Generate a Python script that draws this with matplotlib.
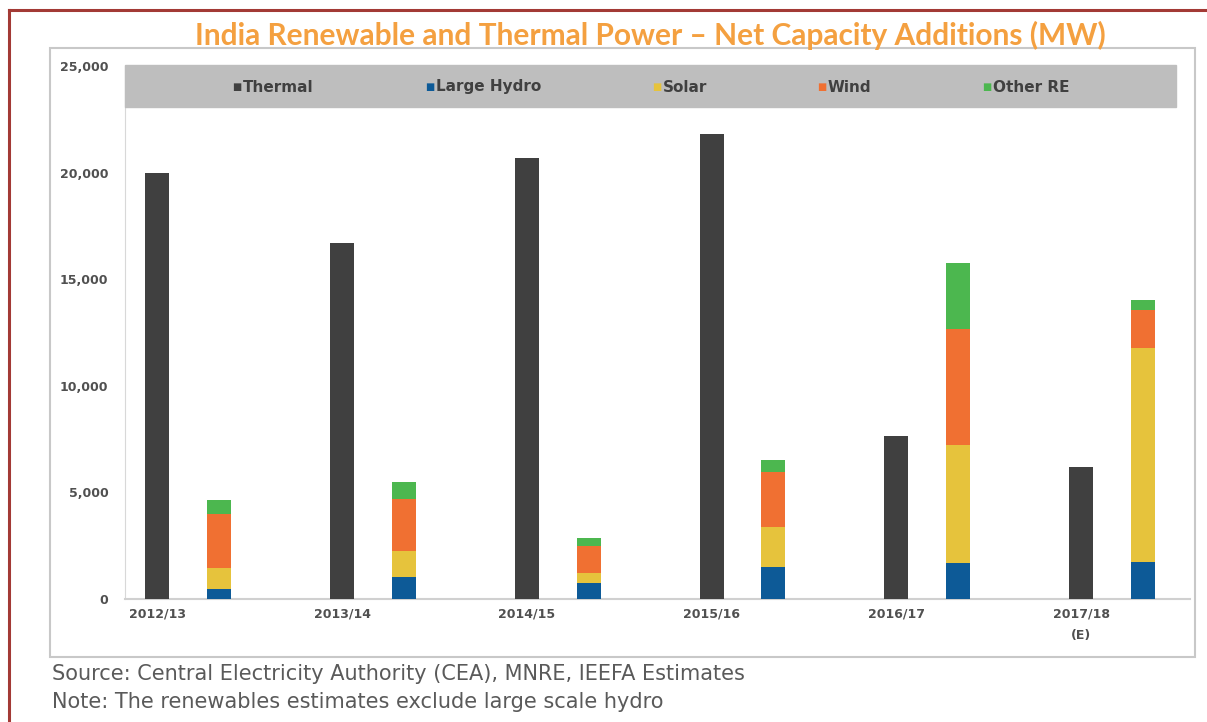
import matplotlib.pyplot as plt
from matplotlib.patches import Rectangle
from matplotlib.ticker import FuncFormatter
import numpy as np

# values (MW)
years = ['2012/13', '2013/14', '2014/15', '2015/16', '2016/17', '2017/18\n(E)']
thermal = [20000, 16700, 20700, 21800, 7650, 6200]
large_hydro = [480, 1030, 750, 1500, 1690, 1740]
solar = [970, 1220, 470, 1880, 5530, 10030]
wind = [2540, 2440, 1270, 2580, 5440, 1780]
other_re = [650, 800, 370, 560, 3100, 470]

series_names = ['Thermal', 'Large Hydro', 'Solar', 'Wind', 'Other RE']
colors = ['#404040', '#0D5A97', '#E6C33C', '#F07032', '#4CB74F']

fig = plt.figure(figsize=(12.07, 7.22), dpi=100)
W, H = 1207, 722

def fx(px):
    return px / W

def fy(py):
    return 1 - py / H

# dark red outer frame (top and left edges only visible)
fig.add_artist(plt.Line2D([fx(9), 1], [fy(10), fy(10)], color='#A33A35', lw=2.2))
fig.add_artist(plt.Line2D([fx(9), fx(9)], [fy(10), 0], color='#A33A35', lw=2.2))

# light grey chart box
fig.add_artist(Rectangle((fx(50), fy(657)), fx(1195 - 50), (657 - 48) / H,
                         fill=False, ec='#C8C8C8', lw=1.5))

fig.text(fx(650), fy(35), 'India Renewable and Thermal Power \u2013 Net Capacity Additions (MW)',
         ha='center', va='center', fontsize=21.5, fontweight='bold',
         color='#F4A040', family='Lato')

ax_l, ax_r, ax_b, ax_t = 125, 1190, 599, 66
ax = fig.add_axes([fx(ax_l), fy(ax_b), fx(ax_r - ax_l), (ax_b - ax_t) / H])
x = np.arange(len(years))
bw = 0.13
off = 0.335

ax.bar(x, thermal, bw, color=colors[0], zorder=3)
bottom = np.zeros(len(years))
for vals, c in zip([large_hydro, solar, wind, other_re], colors[1:]):
    ax.bar(x + off, vals, bw, bottom=bottom, color=c, zorder=3)
    bottom += np.array(vals)

ax.set_ylim(0, 25000)
ax.set_xlim(-0.175, 5.59)
ax.set_yticks(range(0, 25001, 5000))
ax.yaxis.set_major_formatter(FuncFormatter(lambda v, p: f'{int(v):,}'))
ax.set_xticks(x)
ax.set_xticklabels(years, linespacing=1.9)
for lab in ax.get_xticklabels() + ax.get_yticklabels():
    lab.set_fontweight('bold')
    lab.set_color('#505050')
    lab.set_fontsize(9)
ax.tick_params(axis='y', length=0, pad=12)
ax.tick_params(axis='x', length=0, pad=6)
for s in ['top', 'right']:
    ax.spines[s].set_visible(False)
ax.spines['left'].set_color('#D8D8D8')
ax.spines['bottom'].set_color('#D0D0D0')
ax.spines['bottom'].set_linewidth(1.5)

# grey legend band at top of plot area
ax.add_patch(Rectangle((0, (ax_b - 107) / (ax_b - ax_t)), (1176 - ax_l) / (ax_r - ax_l),
                       (107 - 65) / (ax_b - ax_t),
                       transform=ax.transAxes, color='#BEBEBE', zorder=4,
                       clip_on=False))
leg_x = [237, 430, 657, 822, 987]
for px, name, c in zip(leg_x, series_names, colors):
    fig.text(fx(px), fy(87), '\u25A0', color=c, fontsize=7, ha='center', va='center', zorder=5)
    fig.text(fx(px + 6), fy(87), name, color='#404040', fontsize=11, fontweight='bold',
             ha='left', va='center', zorder=5)

fig.text(fx(52), fy(674), 'Source: Central Electricity Authority (CEA), MNRE, IEEFA Estimates',
         fontsize=15, color='#5A5A5A', va='center', ha='left')
fig.text(fx(52), fy(702), 'Note: The renewables estimates exclude large scale hydro',
         fontsize=15, color='#5A5A5A', va='center', ha='left')

fig.savefig('out.png', dpi=100, facecolor='white')
